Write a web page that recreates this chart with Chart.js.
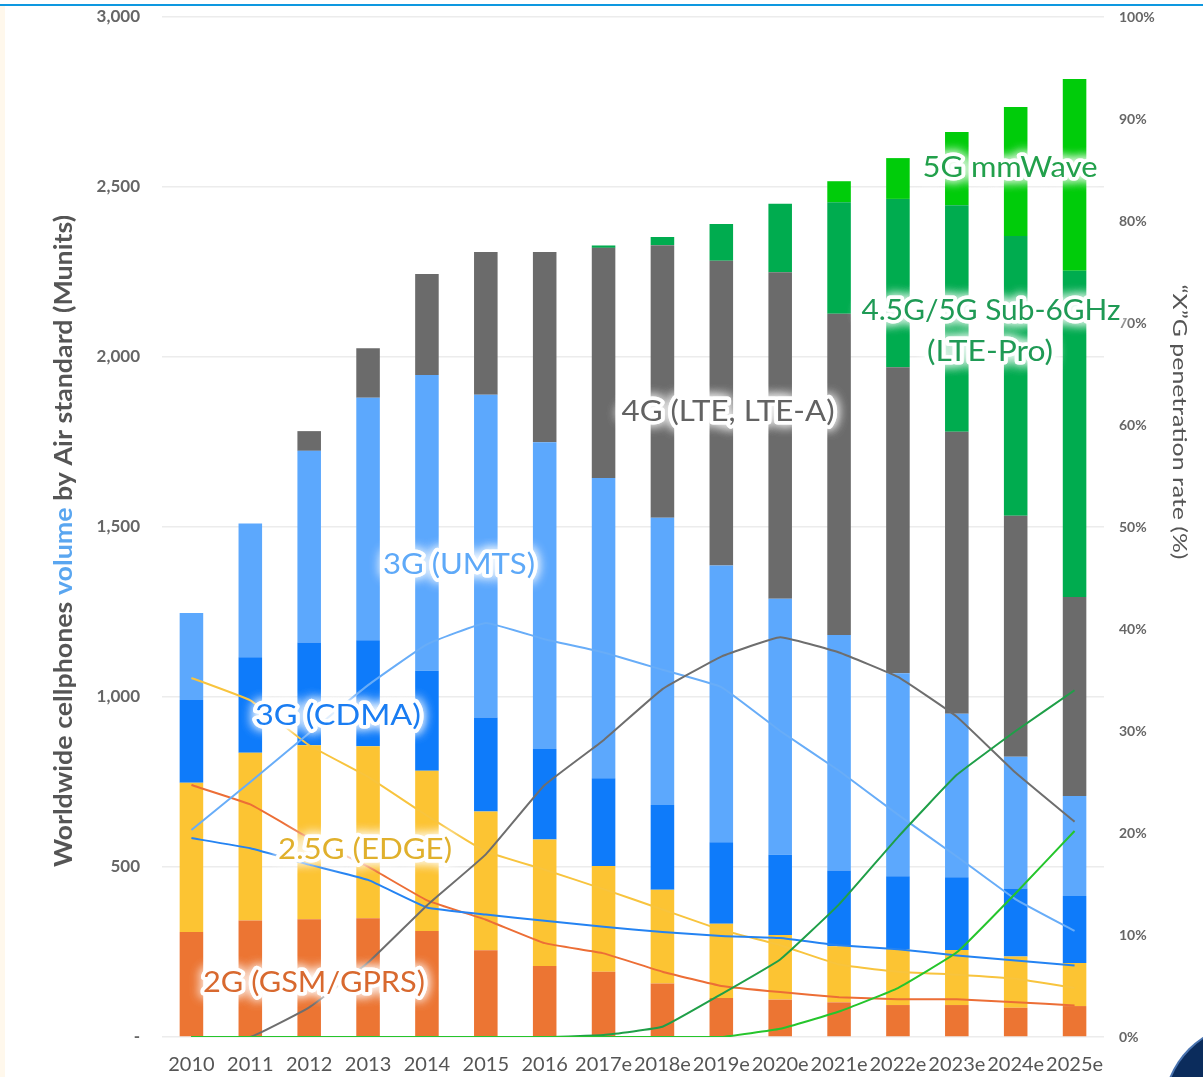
<!DOCTYPE html>
<html>
<head>
<meta charset="utf-8">
<title>Cellphones by air standard</title>
<script src="https://cdn.jsdelivr.net/npm/chart.js@4.4.0/dist/chart.umd.min.js"></script>
<style>
  html, body { margin: 0; padding: 0; background: #fff; }
  #wrap { position: relative; width: 1203px; height: 1077px; overflow: hidden; background: #fff; }
  #topline { position: absolute; left: 0; top: 4px; width: 1203px; height: 2px; background: #0e98e0; }
  #leftstrip { position: absolute; left: 0; top: 6px; width: 5px; height: 1071px; background: #fff8ec; }
  #badge { position: absolute; left: 1165px; top: 1025px; width: 170px; height: 170px; border-radius: 50%;
           background: #0b2c5c; box-shadow: 0 0 0 2px #4a74b0; }
  canvas { position: absolute; left: 0; top: 0; }
</style>
</head>
<body>
<div id="wrap">
  <div id="leftstrip"></div>
  <canvas id="myChart" width="1203" height="1077"></canvas>
  <div id="topline"></div>
  <div id="badge"></div>
</div>
<script>
// categories
var years = ['2010', '2011', '2012', '2013', '2014', '2015', '2016', '2017e',
             '2018e', '2019e', '2020e', '2021e', '2022e', '2023e', '2024e', '2025e'];

// shipments by air standard (Munits), stacked bars
var gsm     = [309, 343, 346, 349, 312, 255, 209, 192, 157, 115, 110, 102, 94, 94, 86, 91];
var edge    = [439, 493, 512, 506, 471, 408, 372, 311, 276, 218, 190, 165, 165, 162, 151, 127];
var cdma    = [243, 281, 302, 312, 294, 277, 266, 258, 249, 240, 236, 223, 214, 214, 200, 197];
var umts    = [256, 393, 564, 713, 870, 949, 902, 883, 845, 814, 753, 692, 597, 481, 387, 294];
var lte     = [0, 0, 58, 146, 297, 420, 560, 677, 802, 896, 960, 945, 900, 829, 709, 585];
var ltePro  = [0, 0, 0, 0, 0, 0, 0, 7, 24, 108, 202, 328, 495, 666, 823, 960];
var mmWave  = [0, 0, 0, 0, 0, 0, 0, 0, 0, 0, 0, 62, 120, 216, 379, 564];

// penetration rate (%), lines on right axis
var gsmPct    = [24.7, 22.8, 19.5, 16.7, 13.4, 11.5, 9.2, 8.2, 6.4, 5.0, 4.4, 3.9, 3.7, 3.7, 3.4, 3.1];
var edgePct   = [35.2, 33.0, 28.6, 25.5, 21.7, 18.2, 16.4, 14.5, 12.5, 10.5, 9.0, 7.1, 6.4, 6.1, 5.7, 4.8];
var cdmaPct   = [19.5, 18.5, 16.9, 15.4, 12.7, 12.0, 11.4, 10.8, 10.3, 9.9, 9.7, 9.0, 8.6, 8.0, 7.5, 7.0];
var umtsPct   = [20.3, 25.0, 29.8, 34.5, 38.5, 40.6, 39.0, 37.7, 36.0, 34.3, 30.0, 26.1, 21.8, 17.7, 13.5, 10.4];
var ltePct    = [0, 0, 2.9, 7.3, 12.9, 17.9, 24.7, 29.1, 34.1, 37.3, 39.2, 37.7, 35.3, 31.4, 25.9, 21.1];
var lteProPct = [0, 0, 0, 0, 0, 0, 0, 0.2, 1.0, 4.2, 7.6, 13.0, 19.6, 25.7, 30.0, 34.0];
var mmWavePct = [0, 0, 0, 0, 0, 0, 0, 0, 0, 0, 0.8, 2.5, 4.8, 8.3, 14.1, 20.2];

// tick labels
var leftTicks = [0, 500, 1000, 1500, 2000, 2500, 3000];
var rightTicks = [0, 10, 20, 30, 40, 50, 60, 70, 80, 90, 100];

// series names drawn inside the plot
var seriesNotes = [
  { text: '3G (UMTS)',        x: 459,  y: 565, w: 152, color: '#5ea9f8' },
  { text: '3G (CDMA)',        x: 338,  y: 716, w: 166, color: '#1a7df2' },
  { text: '2.5G (EDGE)',      x: 365,  y: 850, w: 174, color: '#e0b02c' },
  { text: '2G (GSM/GPRS)',    x: 314,  y: 983, w: 222, color: '#d8692f' },
  { text: '4G (LTE, LTE-A)',  x: 728,  y: 412, w: 213, color: '#626262' },
  { text: '5G mmWave',        x: 1010, y: 168, w: 175, color: '#22a04b' },
  { text: '4.5G/5G Sub-6GHz', x: 991,  y: 311, w: 259, color: '#1f9a55' },
  { text: '(LTE-Pro)',        x: 990,  y: 352, w: 126, color: '#1f9a55' }
];

function glowText(ctx, txt, x, y, w, color) {
  ctx.save();
  ctx.translate(x, y);
  var m = ctx.measureText(txt).width;
  ctx.scale(w / m, 1);
  ctx.shadowColor = 'rgba(255,255,255,1)';
  ctx.shadowBlur = 12;
  ctx.strokeStyle = 'rgba(255,255,255,0.85)';
  ctx.lineWidth = 7;
  ctx.lineJoin = 'round';
  ctx.strokeText(txt, 0, 0);
  ctx.strokeText(txt, 0, 0);
  ctx.shadowBlur = 0;
  ctx.fillStyle = color;
  ctx.fillText(txt, 0, 0);
  ctx.restore();
}

var textPlugin = {
  id: 'textPlugin',
  afterDraw: function(chart) {
    var ctx = chart.ctx;
    ctx.save();
    ctx.font = '28px Lato';
    ctx.textAlign = 'center';
    ctx.textBaseline = 'middle';
    seriesNotes.forEach(function(n) {
      glowText(ctx, n.text, n.x, n.y, n.w, n.color);
    });
    ctx.restore();

    // left title, "volume" in blue
    var parts = [['Worldwide cellphones ', '#555555'], ['volume', '#5aa6f0'], [' by Air standard (Munits)', '#555555']];
    ctx.save();
    ctx.font = 'bold 24px Lato';
    var total = 0;
    parts.forEach(function(p) { total += ctx.measureText(p[0]).width; });
    ctx.translate(72, 541);
    ctx.rotate(-Math.PI / 2);
    ctx.scale(652 / total, 1);
    ctx.textAlign = 'left';
    ctx.textBaseline = 'alphabetic';
    var px = -total / 2;
    parts.forEach(function(p) {
      ctx.fillStyle = p[1];
      ctx.fillText(p[0], px, 0);
      px += ctx.measureText(p[0]).width;
    });
    ctx.restore();

    // right title
    ctx.save();
    ctx.font = '20px Lato';
    var rt = '\u201cX\u201dG penetration rate (%)';
    var rw = ctx.measureText(rt).width;
    ctx.translate(1173, 422);
    ctx.rotate(Math.PI / 2);
    ctx.scale(275 / rw, 1);
    ctx.textAlign = 'center';
    ctx.textBaseline = 'alphabetic';
    ctx.fillStyle = '#555555';
    ctx.fillText(rt, 0, 0);
    ctx.restore();
  }
};

function barSet(label, data, color) {
  return { type: 'bar', label: label, data: data, backgroundColor: color, yAxisID: 'y',
           stack: 'vol', order: 2, barPercentage: 0.4, categoryPercentage: 1.0 };
}
function lineSet(label, data, color) {
  return { type: 'line', label: label, data: data, borderColor: color, borderWidth: 2,
           pointRadius: 0, fill: false, tension: 0.1, yAxisID: 'y2', order: 1 };
}

function noPad(s) {
  s.paddingTop = 0; s.paddingBottom = 0; s.paddingLeft = 0; s.paddingRight = 0;
}

var ctx = document.getElementById('myChart').getContext('2d');
var myChart = new Chart(ctx, {
  data: {
    labels: years,
    datasets: [
      lineSet('5G mmWave %', mmWavePct, '#25c52c'),
      lineSet('4.5G %', lteProPct, '#1f9f48'),
      lineSet('4G %', ltePct, '#6e6e6e'),
      lineSet('UMTS %', umtsPct, '#68adf8'),
      lineSet('CDMA %', cdmaPct, '#2483f2'),
      lineSet('EDGE %', edgePct, '#f8c43e'),
      lineSet('GSM %', gsmPct, '#ec6e36'),
      barSet('2G (GSM/GPRS)', gsm, '#ec7533'),
      barSet('2.5G (EDGE)', edge, '#fcc433'),
      barSet('3G (CDMA)', cdma, '#0e7bfa'),
      barSet('3G (UMTS)', umts, '#5ca8fd'),
      barSet('4G (LTE, LTE-A)', lte, '#6b6b6b'),
      barSet('4.5G/5G Sub-6GHz', ltePro, '#00ac4f'),
      barSet('5G mmWave', mmWave, '#00cc0a')
    ]
  },
  options: {
    responsive: false,
    animation: false,
    devicePixelRatio: 1,
    layout: { padding: { top: 17, left: 0, right: 0, bottom: 0 } },
    plugins: { legend: { display: false }, tooltip: { enabled: false } },
    scales: {
      x: {
        stacked: true,
        grid: { display: false },
        border: { display: false },
        ticks: { autoSkip: false, maxRotation: 0, minRotation: 0, padding: 8,
                 color: '#555', font: { family: 'Lato', size: 20 } },
        afterFit: function(s) { s.height = 40; noPad(s); }
      },
      y: {
        stacked: true,
        position: 'left',
        min: 0, max: 3000,
        afterBuildTicks: function(s) { s.ticks = leftTicks.map(function(v) { return { value: v }; }); },
        grid: { color: '#ececec', lineWidth: 1.5, drawTicks: false },
        border: { display: false },
        ticks: {
          padding: 22, color: '#666', font: { family: 'Lato', size: 17, weight: 'bold' },
          callback: function(v) { return v === 0 ? '-' : v.toLocaleString('en-US'); }
        },
        afterFit: function(s) { s.width = 162; noPad(s); }
      },
      y2: {
        position: 'right',
        min: 0, max: 100,
        afterBuildTicks: function(s) { s.ticks = rightTicks.map(function(v) { return { value: v }; }); },
        grid: { display: false, drawTicks: false },
        border: { display: false },
        ticks: {
          padding: 15, color: '#666', font: { family: 'Lato', size: 14, weight: 'bold' },
          callback: function(v) { return v + '%'; }
        },
        afterFit: function(s) { s.width = 99; noPad(s); }
      }
    }
  },
  plugins: [textPlugin]
});
</script>
</body>
</html>
